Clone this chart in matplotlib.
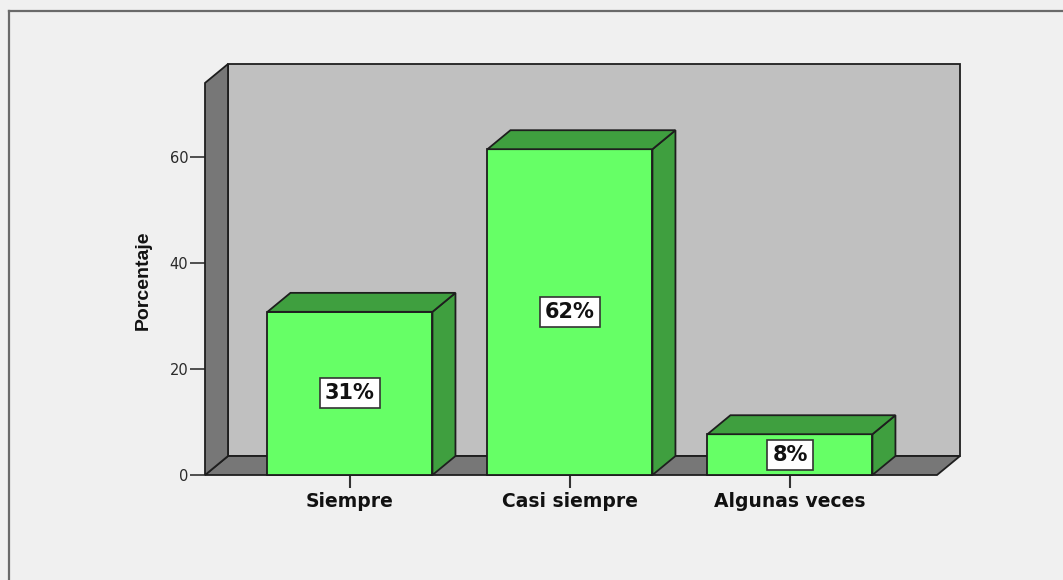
import matplotlib.pyplot as plt
from matplotlib.patches import Polygon
from matplotlib.lines import Line2D

categories = ["Siempre", "Casi siempre", "Algunas veces"]
values = [30.8, 61.5, 7.7]
labels = ["31%", "62%", "8%"]
yticks = [0, 20, 40, 60]

W, H = 1063, 580
bar_w = 0.75
dx, dy = 0.1045, 3.58      # depth offset of the 3D box, in data units
x0, x1 = -0.659, 2.773     # front-left / back-right of the box
wall_top = 74.0

front = "#66ff66"
shade = "#3f9f3f"
edge = "#1e1e1e"


def poly(ax, pts, fc, z):
    ax.add_patch(Polygon(pts, closed=True, facecolor=fc, edgecolor=edge,
                         linewidth=1.3, joinstyle="miter", clip_on=False, zorder=z))


def main():
    fig = plt.figure(figsize=(W / 100, H / 100), dpi=100, facecolor="#f0f0f0")
    ax = fig.add_axes([205 / W, (H - 475) / H, 755 / W, 411 / H])
    ax.set_facecolor("none")
    ax.set_xlim(x0, x1)
    ax.set_ylim(0, wall_top + dy)
    for s in ax.spines.values():
        s.set_visible(False)

    # back wall, floor, left wall
    poly(ax, [(x0 + dx, dy), (x1, dy), (x1, wall_top + dy), (x0 + dx, wall_top + dy)], "#c0c0c0", 1)
    poly(ax, [(x0, 0), (x0 + dx, dy), (x1, dy), (x1 - dx, 0)], "#777777", 2)
    poly(ax, [(x0, 0), (x0 + dx, dy), (x0 + dx, wall_top + dy), (x0, wall_top)], "#777777", 2)

    for i, (v, lab) in enumerate(zip(values, labels)):
        l, r = i - bar_w / 2, i + bar_w / 2
        poly(ax, [(l, 0), (r, 0), (r, v), (l, v)], front, 3)
        poly(ax, [(r, 0), (r + dx, dy), (r + dx, v + dy), (r, v)], shade, 3)
        poly(ax, [(l, v), (l + dx, v + dy), (r + dx, v + dy), (r, v)], shade, 3)
        ax.text(i, v / 2, lab, ha="center", va="center", fontsize=15,
                fontweight="bold", family="DejaVu Sans", color="#111111", zorder=5,
                bbox=dict(boxstyle="square,pad=0.24", facecolor="white",
                          edgecolor="#333333", linewidth=1.2))

    ax.set_yticks(yticks)
    ax.set_yticklabels([str(t) for t in yticks], fontsize=10.5, family="DejaVu Sans", color="#2a2a2a")
    ax.set_xticks(range(len(categories)))
    ax.set_xticklabels(categories, fontsize=13.5, fontweight="bold", family="DejaVu Sans", color="#111111")
    ax.tick_params(axis="y", length=11, width=1.2, color="#333333", pad=1)
    ax.tick_params(axis="x", length=9, width=1.5, color="#333333", pad=3)

    fig.text(143 / W, 1 - 280 / H, "Porcentaje", rotation=90, ha="center", va="center",
             fontsize=14, fontweight="bold", family=["Liberation Sans Narrow", "Liberation Sans"],
             color="#111111")

    # outer frame (top and left edges visible)
    fig.add_artist(Line2D([9 / W, 9 / W], [0, 1 - 11 / H], transform=fig.transFigure,
                          color="#6a6a6a", linewidth=1.6))
    fig.add_artist(Line2D([9 / W, 1], [1 - 11 / H, 1 - 11 / H], transform=fig.transFigure,
                          color="#6a6a6a", linewidth=1.6))

    fig.savefig("out.png", dpi=100, facecolor=fig.get_facecolor())


if __name__ == '__main__':
    main()
